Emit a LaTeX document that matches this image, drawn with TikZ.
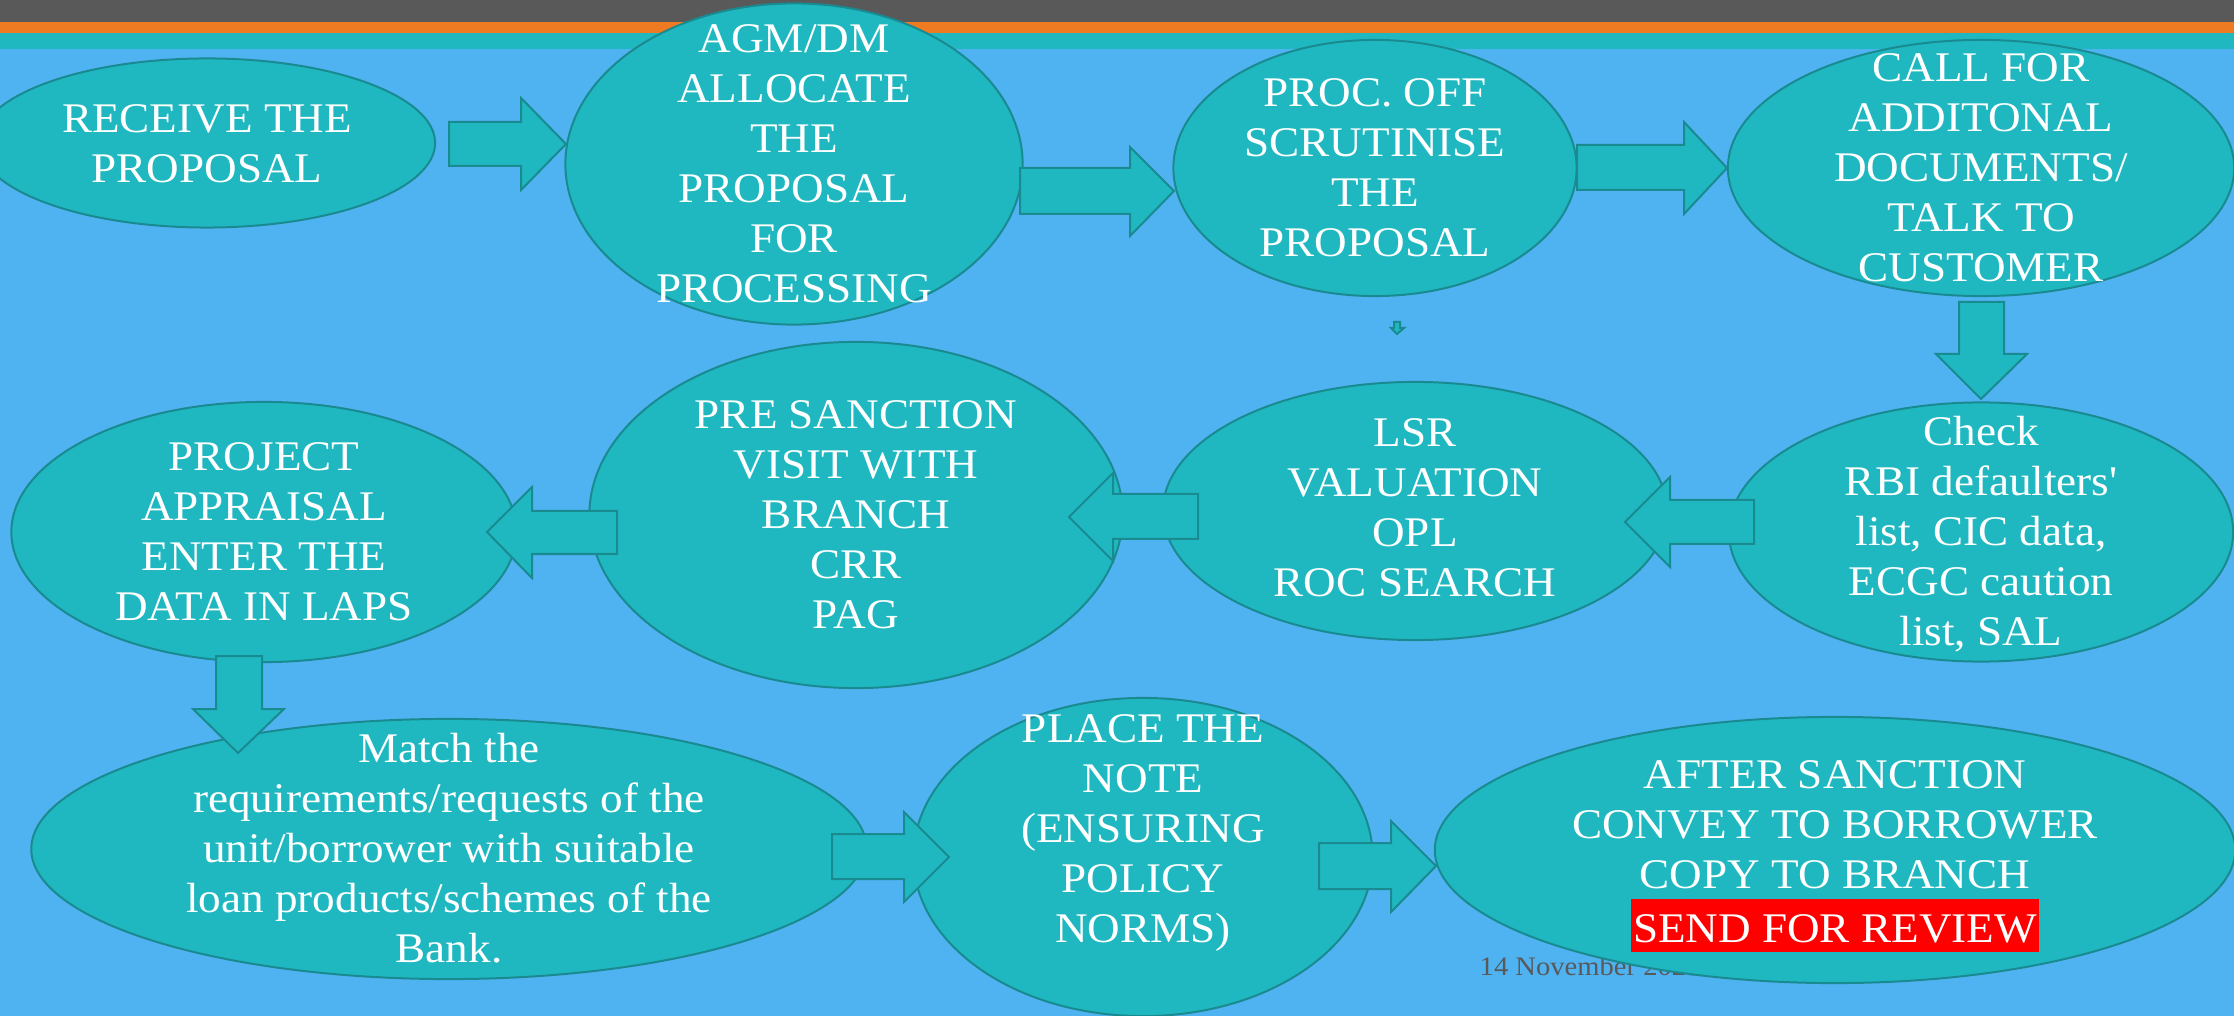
\documentclass[tikz,border=0pt]{standalone}
\usepackage{fontspec}
\setmainfont[FakeStretch=1.07]{Liberation Serif}
\usetikzlibrary{shapes.geometric}
\definecolor{bgblue}{HTML}{4FB3F1}
\definecolor{tealfill}{HTML}{1FB8C1}
\definecolor{tealdark}{HTML}{1A8A91}
\definecolor{bargray}{HTML}{595959}
\definecolor{barorange}{HTML}{EE7A22}
\definecolor{dategray}{HTML}{595959}
\tikzset{
  blob/.style={ellipse, draw=tealdark, fill=tealfill, line width=0.02cm, inner sep=0pt},
  txt/.style={text=white, align=center, inner sep=0pt, font=\fontsize{12}{14.2}\selectfont},
  barrow/.style={draw=tealdark, fill=tealfill, line width=0.02cm, line join=miter},
}
% horizontal block arrow: tail x, head-base x, tip x, shaft top, shaft bottom, head top, head bottom, tip y
\newcommand{\harrow}[8]{\draw[barrow] (#1,#4) -- (#2,#4) -- (#2,#6) -- (#3,#8) -- (#2,#7) -- (#2,#5) -- (#1,#5) -- cycle;}
% vertical block arrow: shaft x1, shaft x2, head x1, head x2, tip x, top y, head y, tip y
\newcommand{\varrow}[8]{\draw[barrow] (#1,#6) -- (#2,#6) -- (#2,#7) -- (#4,#7) -- (#5,#8) -- (#3,#7) -- (#1,#7) -- cycle;}
\begin{document}
\begin{tikzpicture}[x=0.01cm,y=-0.01cm]
\useasboundingbox (0,0) rectangle (2234,1016);
\fill[bgblue] (0,0) rectangle (2234,1016);
\fill[bargray] (0,0) rectangle (2234,22);
\fill[barorange] (0,22) rectangle (2234,33);
\fill[tealfill] (0,33) rectangle (2234,49);

\node[anchor=base west, inner sep=0pt, text=dategray, font=\fontsize{7.6}{9}\selectfont] (date) at (1479,975) {14 November 2023};

% ellipses
\node[blob, minimum width=4.56cm, minimum height=1.69cm] (e1) at (207,143) {};
\node[blob, minimum width=4.57cm, minimum height=3.21cm] (e2) at (794,164) {};
\node[blob, minimum width=4.03cm, minimum height=2.56cm] (e3) at (1375,168) {};
\node[blob, minimum width=5.06cm, minimum height=2.56cm] (e4) at (1981,168) {};
\node[blob, minimum width=5.04cm, minimum height=2.59cm] (e5) at (1981,532) {};
\node[blob, minimum width=5.04cm, minimum height=2.58cm] (e6) at (1415,511) {};
\node[blob, minimum width=5.33cm, minimum height=3.46cm] (e7) at (856,515) {};
\node[blob, minimum width=5.05cm, minimum height=2.60cm] (e8) at (264,532) {};
\node[blob, minimum width=8.35cm, minimum height=2.60cm] (e9) at (449,849) {};
\node[blob, minimum width=4.59cm, minimum height=3.18cm] (e10) at (1143,857) {};
\node[blob, minimum width=8.00cm, minimum height=2.66cm] (e11) at (1835,850) {};

% block arrows
\harrow{449}{521}{566}{122}{166}{98}{190}{144}
\harrow{1020}{1130}{1174}{168}{214}{147}{236}{191}
\harrow{1577}{1684}{1727}{145}{190}{122}{214}{168}
\varrow{1959}{2004}{1936}{2027}{1981}{302}{354}{399}
\harrow{1754}{1670}{1625}{500}{544}{477}{567}{522}
\harrow{1198}{1113}{1069}{494}{539}{473}{561}{517}
\harrow{617}{532}{487}{511}{554}{487}{578}{532}
\varrow{216}{262}{193}{284}{238}{656}{709}{753}
\harrow{832}{904}{949}{834}{879}{812}{902}{857}
\harrow{1319}{1391}{1436}{843}{889}{821}{912}{866}
\varrow{1394}{1400}{1391}{1404}{1397}{322}{328}{334}

% texts
\node[txt] (t1) at (207,144) {RECEIVE THE\\PROPOSAL};
\node[txt] (t2) at (794,164) {AGM/DM\\ALLOCATE\\THE\\PROPOSAL\\FOR\\PROCESSING};
\node[txt] (t3) at (1375,168) {PROC. OFF\\SCRUTINISE\\THE\\PROPOSAL};
\node[txt] (t4) at (1981,168) {CALL FOR\\ADDITONAL\\DOCUMENTS/\\TALK TO\\CUSTOMER};
\node[txt] (t5) at (1981,534) {Check\\RBI defaulters\textquotesingle\\list, CIC data,\\ECGC caution\\list, SAL};
\node[txt] (t6) at (1415,508) {LSR\\VALUATION\\OPL\\ROC SEARCH};
\node[txt] (t7) at (856,515) {PRE SANCTION\\VISIT WITH\\BRANCH\\CRR\\PAG};
\node[txt] (t8) at (264,532) {PROJECT\\APPRAISAL\\ENTER THE\\DATA IN LAPS};
\node[txt] (t9) at (449,848) {Match the\\requirements/requests of the\\unit/borrower with suitable\\loan products/schemes of the\\Bank.};
\node[txt] (t10) at (1143,833) {PLACE THE\\NOTE\\(ENSURING\\POLICY\\NORMS)};
\node[txt] (t11) at (1835,825) {AFTER SANCTION\\CONVEY TO BORROWER\\COPY TO BRANCH};
\node[txt, fill=red, anchor=base, inner xsep=0.02cm, text height=0.43cm, text depth=0.10cm] (review) at (1835,942) {SEND FOR REVIEW};
\end{tikzpicture}
\end{document}
